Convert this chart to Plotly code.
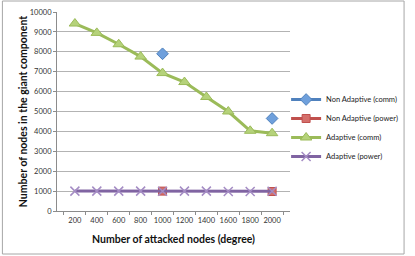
import plotly.graph_objects as go

categories = ["200", "400", "600", "800", "1000", "1200", "1400", "1600", "1800", "2000"]
non_adaptive_comm = [None, None, None, None, 7900, None, None, None, None, 4650]
non_adaptive_power = [None, None, None, None, 1000, None, None, None, None, 980]
adaptive_comm = [9420, 8950, 8380, 7760, 6930, 6480, 5730, 5000, 4030, 3910]
adaptive_power = [1000, 1000, 1000, 1000, 990, 1000, 1000, 980, 980, 990]

FONT = "Lato"
fig = go.Figure()

fig.add_trace(go.Scatter(
    x=categories, y=non_adaptive_comm, name="Non Adaptive (comm)",
    mode="lines+markers", connectgaps=False,
    line=dict(color="#4F81BD", width=3),
    marker=dict(symbol="diamond", size=9, color="#6FA0DC", line=dict(color="#4F81BD", width=1)),
))
fig.add_trace(go.Scatter(
    x=categories, y=non_adaptive_power, name="Non Adaptive (power)",
    mode="lines+markers", connectgaps=False,
    line=dict(color="#C0504D", width=3),
    marker=dict(symbol="square", size=8, color="#D46F6B", line=dict(color="#C0504D", width=1)),
))
fig.add_trace(go.Scatter(
    x=categories, y=adaptive_comm, name="Adaptive (comm)",
    mode="lines+markers",
    line=dict(color="#9BBB59", width=3),
    marker=dict(symbol="triangle-up", size=10, color="#B5D27A", line=dict(color="#9BBB59", width=1)),
))
fig.add_trace(go.Scatter(
    x=categories, y=adaptive_power, name="Adaptive (power)",
    mode="lines+markers",
    line=dict(color="#8064A2", width=3),
    marker=dict(symbol="x-thin-open", size=9, color="#A48CC4", line=dict(color="#A48CC4", width=1.5)),
))

L, R, T, B = 57, 119, 12, 45
W, H = 415, 256
pw, ph = W - L - R, H - T - B

fig.update_layout(
    width=W, height=H,
    margin=dict(l=L, r=R, t=T, b=B),
    paper_bgcolor="white", plot_bgcolor="white",
    font=dict(family=FONT, size=8, color="#333333"),
    showlegend=True,
    legend=dict(
        x=(292 - L) / pw, xanchor="left",
        y=(H - B - 85) / ph, yanchor="top",
        font=dict(family=FONT, size=7.5, color="#222222"),
        bgcolor="rgba(0,0,0,0)",
        tracegroupgap=0,
    ),
    xaxis=dict(
        type="category", automargin=False,
        title=dict(text="<b>Number of attacked nodes (degree)</b>",
                   font=dict(family=FONT, size=10.5, color="#111111"), standoff=11),
        showgrid=False, showline=True, linecolor="#8C8C8C", linewidth=1,
        ticks="outside", tickson="boundaries", ticklen=3, tickcolor="#8C8C8C",
        tickangle=0, ticklabelstandoff=2,
        tickfont=dict(family=FONT, size=7.5, color="#333333"),
        zeroline=False,
    ),
    yaxis=dict(
        range=[0, 10000], dtick=1000, tick0=0, tickformat="d", automargin=False,
        title=dict(text="<b>Number of nodes in the giant component</b>",
                   font=dict(family=FONT, size=10.5, color="#111111"), standoff=0),
        showgrid=True, gridcolor="#B3B3B3", gridwidth=1,
        showline=True, linecolor="#8C8C8C", linewidth=1,
        ticks="outside", ticklen=3, tickcolor="#8C8C8C",
        tickfont=dict(family=FONT, size=7.5, color="#333333"),
        zeroline=False,
    ),
)

fig.add_shape(
    type="rect", xref="paper", yref="paper",
    x0=(1 - L) / pw, x1=(413 - L) / pw,
    y0=(H - B - 254) / ph, y1=(H - B - 1) / ph,
    line=dict(color="#A6A6A6", width=1), fillcolor="rgba(0,0,0,0)", layer="below",
)

fig.write_html(
    "out.html",
    config={"displayModeBar": False},
    post_script="document.body.style.margin='0';document.body.style.padding='0';",
)
